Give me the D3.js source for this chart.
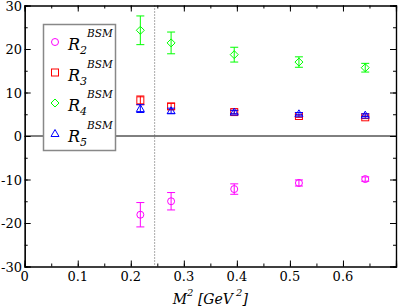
<!DOCTYPE html>
<html>
<head>
<meta charset="utf-8">
<script src="https://cdn.jsdelivr.net/npm/d3@7"></script>
<style>
  body { margin: 0; background: #fff; }
  svg text { font-family: 'DejaVu Serif', serif; }
</style>
</head>
<body>
<div id="draw"></div>
<script>
var W = 398, H = 308;

// M^2 values (GeV^2)
var m2 = [0.218, 0.276, 0.395, 0.517, 0.642];

// ratios and their errors
var r2 = [-18.1, -15.0, -12.2, -10.8, -9.9];
var r2err = [2.8, 2.0, 1.2, 0.7, 0.5];
var r3 = [8.2, 6.8, 5.5, 4.6, 4.3];
var r3err = [1.0, 0.7, 0.4, 0.3, 0.3];
var r4 = [24.3, 21.4, 18.7, 17.0, 15.7];
var r4err = [3.3, 2.5, 1.7, 1.2, 1.0];
var r5 = [6.3, 5.8, 5.5, 5.1, 4.8];
var r5err = [0.9, 0.6, 0.4, 0.3, 0.3];

var xTicks = [0, 0.1, 0.2, 0.3, 0.4, 0.5, 0.6];
var yTicks = [-30, -20, -10, 0, 10, 20, 30];
var cutLine = 0.245;

var series = [
  {name: '2', y: r2, e: r2err, color: '#ff00ff', sym: 'circle'},
  {name: '3', y: r3, e: r3err, color: '#ff0000', sym: 'square'},
  {name: '4', y: r4, e: r4err, color: '#00ff00', sym: 'diamond'},
  {name: '5', y: r5, e: r5err, color: '#0000ff', sym: 'triangle'}
];

var pLeft = 24.7, pRight = 396, pTop = 5.5, pBottom = 266.5;

var x = d3.scaleLinear().domain([0, 0.7]).range([pLeft, pRight]);
var y = d3.scaleLinear().domain([-30, 30]).range([pBottom, pTop]);

var svg = d3.select('#draw').append('svg')
  .attr('width', W).attr('height', H);

// zero line
svg.append('line')
  .attr('x1', x(0)).attr('x2', x(0.7))
  .attr('y1', y(0)).attr('y2', y(0))
  .attr('stroke', '#000').attr('stroke-width', 1);

// dotted vertical line
svg.append('line')
  .attr('x1', x(cutLine)).attr('x2', x(cutLine))
  .attr('y1', y(30)).attr('y2', y(-30))
  .attr('stroke', '#555').attr('stroke-width', 1)
  .attr('stroke-dasharray', '1,2');

// axes, ticks inward on all four sides
var xMinor = d3.range(0, 0.7001, 0.05);
var xMajor = d3.range(0, 0.7001, 0.1);
var yMinor = d3.range(-30, 30.001, 5);

svg.append('g').attr('transform', 'translate(0,' + pBottom + ')')
  .call(d3.axisBottom(x).tickValues(xMinor).tickSize(-3).tickFormat(''));
svg.append('g').attr('transform', 'translate(0,' + pBottom + ')')
  .call(d3.axisBottom(x).tickValues(xMajor).tickSize(-6).tickFormat(''));
svg.append('g').attr('transform', 'translate(0,' + pTop + ')')
  .call(d3.axisTop(x).tickValues(xMinor).tickSize(-3).tickFormat(''));
svg.append('g').attr('transform', 'translate(0,' + pTop + ')')
  .call(d3.axisTop(x).tickValues(xMajor).tickSize(-6).tickFormat(''));
svg.append('g').attr('transform', 'translate(' + pLeft + ',0)')
  .call(d3.axisLeft(y).tickValues(yMinor).tickSize(-3).tickFormat(''));
svg.append('g').attr('transform', 'translate(' + pLeft + ',0)')
  .call(d3.axisLeft(y).tickValues(yTicks).tickSize(-6).tickFormat(''));
svg.append('g').attr('transform', 'translate(' + pRight + ',0)')
  .call(d3.axisRight(y).tickValues(yMinor).tickSize(-3).tickFormat(''));
svg.append('g').attr('transform', 'translate(' + pRight + ',0)')
  .call(d3.axisRight(y).tickValues(yTicks).tickSize(-6).tickFormat(''));
svg.selectAll('.domain').attr('stroke', '#000').attr('stroke-width', 1.2);
svg.selectAll('.tick line').attr('stroke', '#000');

// tick labels
svg.selectAll('.xlab').data(xTicks).enter().append('text')
  .attr('class', 'xlab')
  .attr('x', function(d) { return x(d); })
  .attr('y', 280.5)
  .attr('text-anchor', 'middle')
  .attr('font-size', 13)
  .text(function(d) { return d === 0 ? '0' : d3.format('.1f')(d); });

svg.selectAll('.ylab').data(yTicks).enter().append('text')
  .attr('class', 'ylab')
  .attr('x', 22)
  .attr('y', function(d) { return y(d) + 5; })
  .attr('text-anchor', 'end')
  .attr('font-size', 13)
  .text(function(d) { return d; });

// axis title
var title = svg.append('text')
  .attr('x', (pLeft + pRight) / 2).attr('y', 304)
  .attr('text-anchor', 'middle')
  .attr('font-size', 14).attr('font-style', 'italic');
title.append('tspan').text('M');
title.append('tspan').attr('dy', -8).attr('font-size', 10).text('2');
title.append('tspan').attr('dy', 8).text(' [GeV');
title.append('tspan').attr('dy', -8).attr('font-size', 10).text(' 2');
title.append('tspan').attr('dy', 8).text(']');

var drawSym = function(g, sym, cx, cy, color) {
  if (sym === 'circle') {
    g.append('circle').attr('cx', cx).attr('cy', cy).attr('r', 3.5)
      .attr('fill', 'none').attr('stroke', color);
  } else if (sym === 'square') {
    g.append('rect').attr('x', cx - 3.5).attr('y', cy - 3.5)
      .attr('width', 7).attr('height', 7)
      .attr('fill', 'none').attr('stroke', color);
  } else if (sym === 'diamond') {
    g.append('path')
      .attr('d', 'M' + cx + ',' + (cy - 4) + 'L' + (cx + 4) + ',' + cy +
        'L' + cx + ',' + (cy + 4) + 'L' + (cx - 4) + ',' + cy + 'Z')
      .attr('fill', 'none').attr('stroke', color);
  } else {
    g.append('path')
      .attr('d', 'M' + cx + ',' + (cy - 4) + 'L' + (cx + 4) + ',' + (cy + 3) +
        'L' + (cx - 4) + ',' + (cy + 3) + 'Z')
      .attr('fill', 'none').attr('stroke', color);
  }
};

// error bars and symbols
series.forEach(function(s) {
  var g = svg.append('g');
  m2.forEach(function(m, i) {
    var cx = x(m), hi = y(s.y[i] + s.e[i]), lo = y(s.y[i] - s.e[i]);
    g.append('line').attr('x1', cx).attr('x2', cx).attr('y1', hi).attr('y2', lo)
      .attr('stroke', s.color);
    g.append('line').attr('x1', cx - 4).attr('x2', cx + 4).attr('y1', hi).attr('y2', hi)
      .attr('stroke', s.color);
    g.append('line').attr('x1', cx - 4).attr('x2', cx + 4).attr('y1', lo).attr('y2', lo)
      .attr('stroke', s.color);
    drawSym(g, s.sym, cx, y(s.y[i]), s.color);
  });
});

// legend
var leg = svg.append('g');
leg.append('rect')
  .attr('x', 43.5).attr('y', 24.5).attr('width', 72).attr('height', 126)
  .attr('fill', '#fff').attr('stroke', '#888').attr('stroke-width', 1.5);
series.forEach(function(s, i) {
  var ry = 42 + i * 30.5;
  drawSym(leg, s.sym, 55, ry, s.color);
  var t = leg.append('text').attr('x', 68).attr('y', ry + 8)
    .attr('font-size', 16).attr('font-style', 'italic');
  t.append('tspan').text('R');
  t.append('tspan').attr('dy', 4).attr('font-size', 11).text(s.name);
  leg.append('text').attr('x', 87).attr('y', ry - 5)
    .attr('font-size', 10.5).attr('font-style', 'italic').text('BSM');
});
</script>
</body>
</html>
